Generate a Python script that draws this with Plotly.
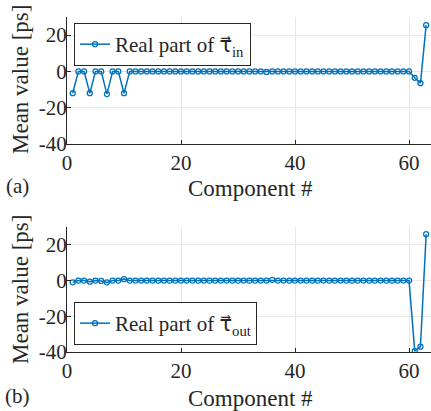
import plotly.graph_objects as go

components = list(range(1, 64))
tau_in_real = [-12, 0, 0, -12, 0, 0, -12.5, 0, 0, -12,
               0, 0, 0, 0, 0, 0, 0, 0, 0, 0,
               0, 0, 0, 0, 0, 0, 0, 0, 0, 0,
               0, 0, 0, 0, -0.3, 0, 0, 0, 0, 0,
               0, 0, 0, 0, 0, 0, 0, 0, 0, 0,
               0, 0, 0, 0, 0, 0, 0, 0, 0, 0,
               -3.5, -6.5, 25.5]
tau_out_real = [-1, 0, 0, -0.6, 0, -0.2, -1, 0, 0, 0.8,
                0, 0, 0, 0, 0, 0, 0, 0, 0, 0,
                0, 0, 0, 0, 0, 0, 0, 0, 0, 0,
                0, 0, 0, 0, 0, 0.4, 0, 0, 0, 0,
                0, 0, 0, 0, 0, 0, 0, 0, 0, 0,
                0, 0, 0, 0, 0, 0, 0, 0, 0, 0,
                -39.5, -37, 26]
x_ticks = [0, 20, 40, 60]
y_ticks = [-40, -20, 0, 20]
y_tick_labels = ["-40", "-20", "0", "20"]
TAU = '<span style="font-family:DejaVu Sans">τ\u20d7</span>'
name_in = "Real part of " + TAU + "<sub>in</sub>"
name_out = "Real part of " + TAU + "<sub>out</sub>"

W, H = 431, 411
BLUE = "#0072BD"
FONT = "Liberation Serif, Times New Roman, DejaVu Serif, serif"
AX = "#262626"
GRID = "#e8e8e8"

def py(p):
    return 1 - p / H

fig = go.Figure()
fig.add_trace(go.Scatter(x=components, y=tau_in_real, mode="lines+markers", name=name_in,
                         line=dict(color=BLUE, width=1.5),
                         marker=dict(symbol="circle-open", size=5, color=BLUE, line=dict(width=1.3)),
                         xaxis="x", yaxis="y", legend="legend"))
fig.add_trace(go.Scatter(x=components, y=tau_out_real, mode="lines+markers", name=name_out,
                         line=dict(color=BLUE, width=1.5),
                         marker=dict(symbol="circle-open", size=5, color=BLUE, line=dict(width=1.3)),
                         xaxis="x2", yaxis="y2", legend="legend2"))

xdom = [67 / W, 1.0]
common_x = dict(range=[0, 63.85], tickvals=x_ticks, showgrid=True, gridcolor=GRID, gridwidth=1,
                showline=True, linecolor=AX, linewidth=1, ticks="inside", ticklen=4, tickcolor=AX,
                zeroline=False, tickfont=dict(family=FONT, size=21, color=AX), domain=xdom,
                automargin=False)
common_y = dict(range=[-40, 30], tickvals=y_ticks, ticktext=y_tick_labels, showgrid=True,
                gridcolor=GRID, gridwidth=1,
                showline=True, linecolor=AX, linewidth=1, ticks="inside", ticklen=4, tickcolor=AX,
                zeroline=False, tickfont=dict(family=FONT, size=21, color=AX), automargin=False,
                ticklabelstandoff=-5)

def ann(text, x, y, size, angle=0):
    return dict(text=text, x=x / W, y=py(y), xref="paper", yref="paper", textangle=angle,
                xanchor="center", yanchor="middle", showarrow=False,
                font=dict(family=FONT, size=size, color=AX))

fig.update_layout(
    width=W, height=H, margin=dict(l=0, r=0, t=0, b=0),
    font=dict(family=FONT, color=AX),
    plot_bgcolor="white", paper_bgcolor="white",
    xaxis=dict(common_x, anchor="y"),
    yaxis=dict(common_y, domain=[py(144), py(17)], anchor="x"),
    xaxis2=dict(common_x, anchor="y2"),
    yaxis2=dict(common_y, domain=[py(352), py(227)], anchor="x2"),
    legend=dict(x=74 / W, y=py(23), xanchor="left", yanchor="top", bgcolor="white",
                bordercolor=AX, borderwidth=1, font=dict(family=FONT, size=21, color=AX),
                itemwidth=30),
    legend2=dict(x=74 / W, y=py(345), xanchor="left", yanchor="bottom", bgcolor="white",
                 bordercolor=AX, borderwidth=1, font=dict(family=FONT, size=21, color=AX),
                 itemwidth=30),
    showlegend=True,
    annotations=[
        ann("Mean value [ps]", 20, 80, 23, -90),
        ann("Mean value [ps]", 20, 290, 23, -90),
        ann("Component #", 250, 188, 23),
        ann("Component #", 250, 398, 23),
        ann("(a)", 17, 186, 21),
        ann("(b)", 17, 396, 21),
    ],
)
fig.write_html("out.html", config={"displayModeBar": False, "staticPlot": True})
with open("out.html", encoding="utf-8") as f:
    html = f.read()
css = ("<style>html,body{margin:0;padding:0;overflow:hidden}"
       "svg text{font-family:'Liberation Serif','Times New Roman','DejaVu Serif',serif !important}</style>")
html = html.replace("<body>", '<body style="margin:0">', 1)
html = html.replace("<head>", "<head>" + css, 1)
with open("out.html", "w", encoding="utf-8") as f:
    f.write(html)
